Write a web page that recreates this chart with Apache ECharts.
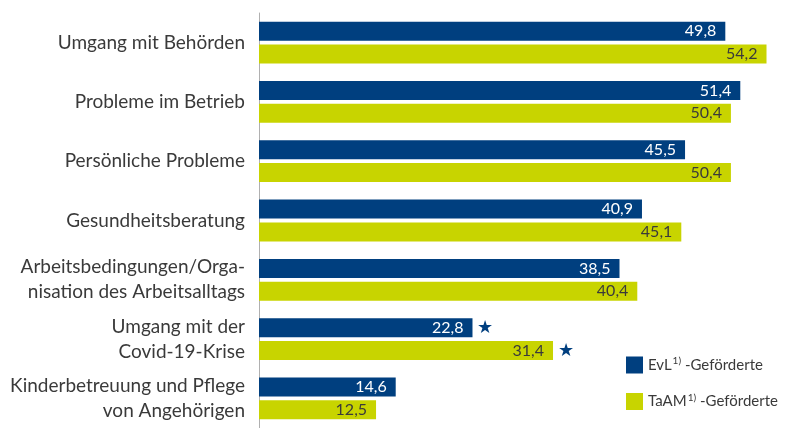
<!DOCTYPE html>
<html>
<head>
<meta charset="utf-8">
<script src="https://cdn.jsdelivr.net/npm/echarts@6/dist/echarts.min.js"></script>
<style>
  html, body { margin: 0; padding: 0; background: #fff; }
  #chart { width: 785px; height: 428px; }
</style>
</head>
<body>
<div id="chart"></div>
<script>
// Kategorien (von oben nach unten)
var categories = [
  'Umgang mit Behörden',
  'Probleme im Betrieb',
  'Persönliche Probleme',
  'Gesundheitsberatung',
  'Arbeitsbedingungen/Orga-\nnisation des Arbeitsalltags',
  'Umgang mit der\nCovid-19-Krise',
  'Kinderbetreuung und Pflege\nvon Angehörigen'
]
var seriesNames = ['EvL', 'TaAM']
var evlValues = [49.8, 51.4, 45.5, 40.9, 38.5, 22.8, 14.6]
var taamValues = [54.2, 50.4, 50.4, 45.1, 40.4, 31.4, 12.5]
// Sternchen-Markierungen (Index der Kategorie)
var evlStars = [5]
var taamStars = [5]

var blue = '#003f7f'
var yellow = '#c8d400'
var textColor = '#3a3a3a'
var font = 'Lato'

function fmt(v) {
  return String(v.toFixed(1)).replace('.', ',')
}

function starPoints(values, idx) {
  return idx.map(function (i) {
    return { coord: [values[i], categories[i]] }
  })
}

function makeSeries(name, values, color, labelColor, stars) {
  return {
    name: name,
    type: 'bar',
    data: values,
    barWidth: 19,
    barGap: '20%',
    itemStyle: { color: color },
    label: {
      show: true,
      position: 'insideRight',
      distance: 9,
      color: labelColor,
      fontFamily: font,
      fontSize: 16,
      formatter: function (p) { return fmt(p.value) }
    },
    markPoint: {
      symbol: 'circle',
      symbolSize: 1,
      itemStyle: { color: 'rgba(0,0,0,0)' },
      label: {
        show: true,
        position: 'right',
        distance: 4,
        formatter: '★',
        color: blue,
        fontSize: 18
      },
      data: starPoints(values, stars)
    }
  }
}

var myChart = echarts.init(document.getElementById('chart'))
myChart.setOption({
  animation: false,
  backgroundColor: '#fff',
  textStyle: { fontFamily: font },
  grid: { left: 259, top: 13, width: 515, height: 420 },
  legend: {
    orient: 'vertical',
    left: 621,
    top: 351,
    itemWidth: 17,
    itemHeight: 17,
    itemGap: 19,
    icon: 'rect',
    selectedMode: false,
    data: seriesNames,
    formatter: function (n) {
      return '{a|' + n + '}{s|1)}{a| -Geförderte}'
    },
    textStyle: {
      rich: {
        a: { fontSize: 15, color: textColor, fontFamily: font },
        s: { fontSize: 10, color: textColor, fontFamily: font, verticalAlign: 'top', padding: [0, 0, 8, 1] }
      }
    }
  },
  xAxis: {
    type: 'value',
    min: 0,
    max: 55,
    show: false
  },
  yAxis: {
    type: 'category',
    data: categories,
    inverse: true,
    axisLine: { show: true, lineStyle: { color: '#b0b0b0', width: 1 } },
    axisTick: { show: false },
    axisLabel: {
      margin: 14,
      color: textColor,
      fontFamily: font,
      fontSize: 19,
      lineHeight: 25,
      align: 'right'
    }
  },
  series: [
    makeSeries(seriesNames[0], evlValues, blue, '#ffffff', evlStars),
    makeSeries(seriesNames[1], taamValues, yellow, textColor, taamStars)
  ]
})
</script>
</body>
</html>
